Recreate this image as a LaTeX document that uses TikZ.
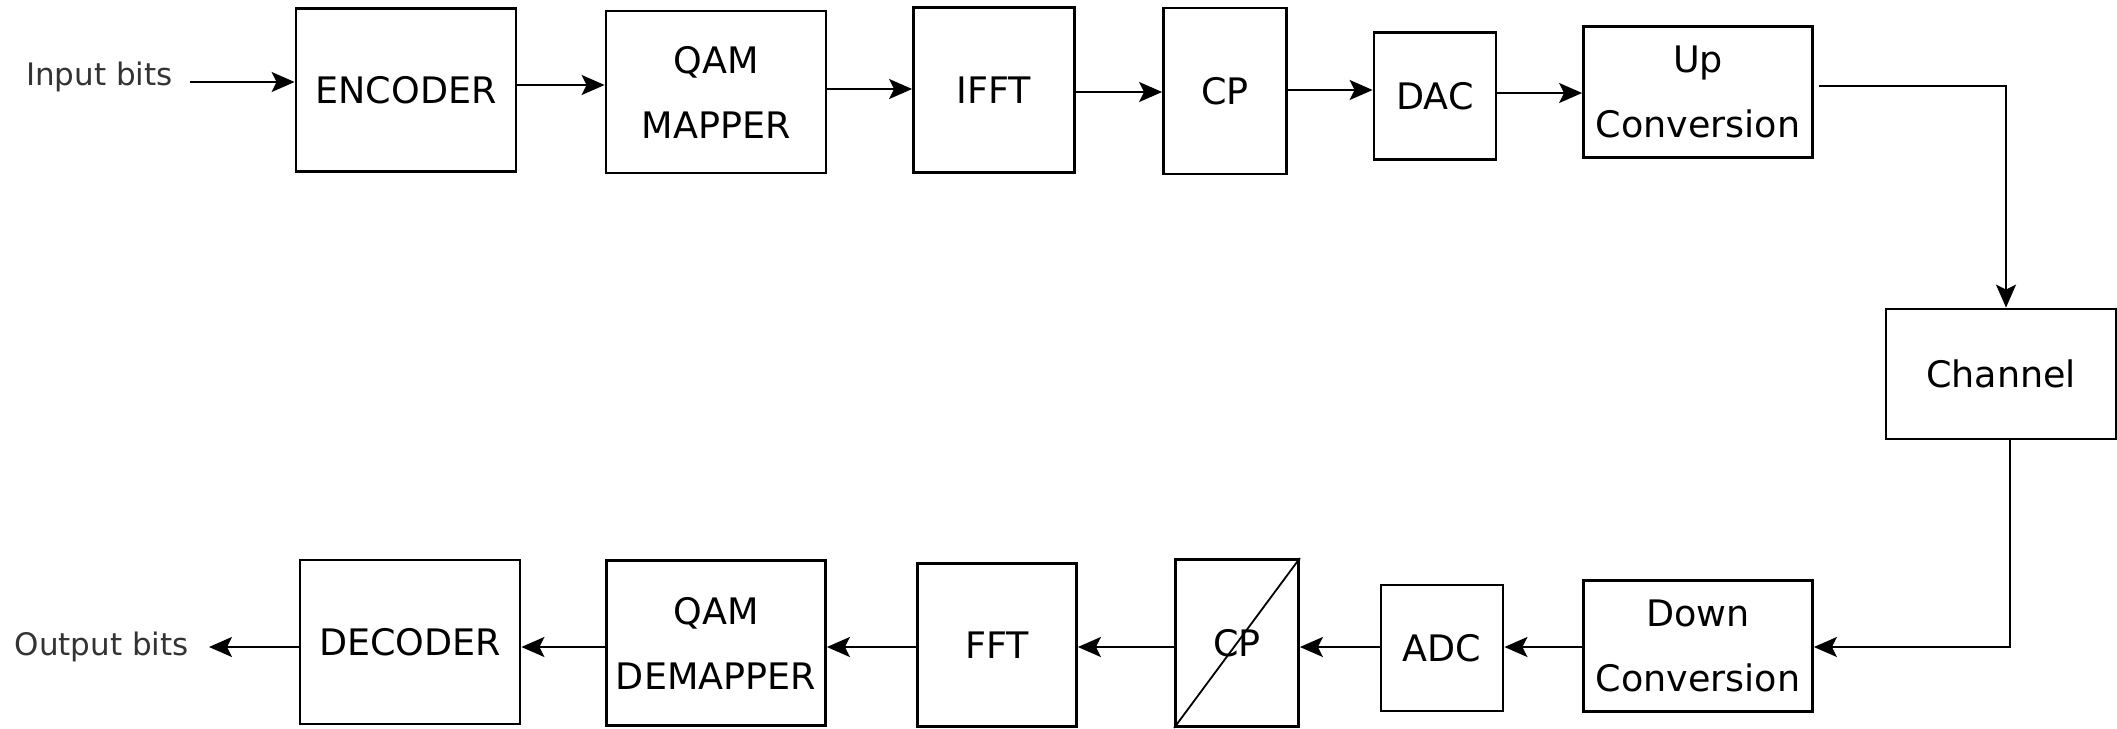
\documentclass[tikz,border=0pt]{standalone}
\usepackage{fontspec}
\setmainfont{DejaVu Sans}
\usetikzlibrary{arrows.meta}
\begin{document}
\begin{tikzpicture}[x=1pt,y=-1pt,
  blk/.style={draw, line width=2.8pt, inner sep=0pt, align=center,
              font=\fontsize{36.5}{65}\selectfont},
  lbl/.style={inner sep=0pt, text=black!80, font=\fontsize{31}{36}\selectfont},
  conn/.style={line width=2.2pt, -{Stealth[length=23pt,width=20pt,inset=5pt]}},
]
\useasboundingbox (0,0) rectangle (2117,728);
% top row
\node[blk, minimum width=220pt, minimum height=163pt] (enc) at (406,90) {ENCODER};
\node[blk, minimum width=220pt, minimum height=162pt] (map) at (716,92) {QAM\\MAPPER};
\node[blk, minimum width=161pt, minimum height=165pt] (ifft) at (994,90) {IFFT};
\node[blk, minimum width=123pt, minimum height=166pt] (cp) at (1225,91) {CP};
\node[blk, minimum width=122pt, minimum height=127pt] (dac) at (1435,96) {DAC};
\node[blk, minimum width=229pt, minimum height=131pt] (up) at (1698,92) {Up\\Conversion};
% channel
\node[blk, minimum width=230pt, minimum height=130pt] (ch) at (2001,374) {Channel};
% bottom row
\node[blk, minimum width=229pt, minimum height=131pt] (down) at (1698,646) {Down\\Conversion};
\node[blk, minimum width=122pt, minimum height=126pt] (adc) at (1442,648) {ADC};
\node[blk, minimum width=123pt, minimum height=167pt] (cpr) at (1237,643) {CP};
\node[blk, minimum width=159pt, minimum height=163pt] (fft) at (997,645) {FFT};
\node[blk, minimum width=219pt, minimum height=165pt] (demap) at (716,643) {QAM\\DEMAPPER};
\node[blk, minimum width=220pt, minimum height=164pt] (dec) at (410,642) {DECODER};
\draw[line width=1.8pt] (cpr.south west) -- (cpr.north east);
% labels
\node[lbl, anchor=east] (inb) at (173,77) {Input bits};
\node[lbl, anchor=east] (outb) at (189,647) {Output bits};
\coordinate (inS) at (190,82);
\coordinate (outE) at (209,647);
% top connectors
\draw[conn] (inS) -- (enc.west |- inS);
\draw[conn] (enc.east |- 0,85) -- (map.west |- 0,85);
\draw[conn] (map.east |- 0,89) -- (ifft.west |- 0,89);
\draw[conn] (ifft.east |- 0,92) -- (cp.west |- 0,92);
\draw[conn] (cp.east |- 0,90) -- (dac.west |- 0,90);
\draw[conn] (dac.east |- 0,93) -- (up.west |- 0,93);
\draw[conn, line width=1.8pt] ([xshift=5pt]up.east |- 0,86) -| ([xshift=5pt]ch.north);
\draw[conn, line width=1.8pt] ([xshift=9pt]ch.south) |- (down.east |- 0,647);
% bottom connectors
\draw[conn] (down.west |- 0,647) -- (adc.east |- 0,647);
\draw[conn] (adc.west |- 0,647) -- (cpr.east |- 0,647);
\draw[conn] (cpr.west |- 0,647) -- (fft.east |- 0,647);
\draw[conn] (fft.west |- 0,647) -- (demap.east |- 0,647);
\draw[conn] (demap.west |- 0,647) -- (dec.east |- 0,647);
\draw[conn] (dec.west |- outE) -- (outE);
\end{tikzpicture}
\end{document}
